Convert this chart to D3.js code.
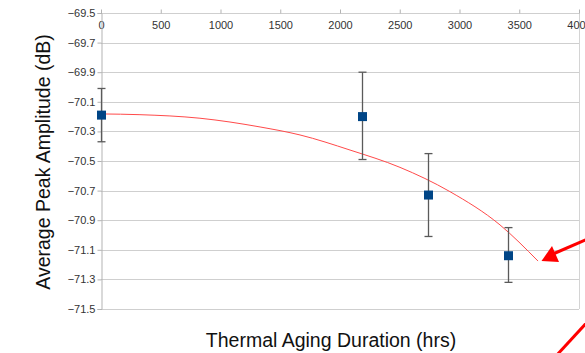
<!DOCTYPE html>
<html>
<head>
<meta charset="utf-8">
<script src="https://cdn.jsdelivr.net/npm/d3@7"></script>
<style>
  body { margin: 0; background: #fff; }
  svg { display: block; font-family: "Liberation Sans", Arial, sans-serif; }
</style>
</head>
<body>
<svg width="585" height="353"></svg>
<script>
// measured points
var hours = [0, 2184, 2736, 3408]
var amp = [-70.19, -70.2, -70.73, -71.14]
var errHi = [-70.01, -69.9, -70.45, -70.95]
var errLo = [-70.37, -70.49, -71.01, -71.32]

// trend line
var trendX = [0, 326, 828, 1331, 1665, 2084, 2502, 2920, 3339, 3657]
var trendY = [-70.182, -70.187, -70.211, -70.27, -70.324, -70.426, -70.543, -70.707, -70.932, -71.176]

var xTicks = [0, 500, 1000, 1500, 2000, 2500, 3000, 3500, 4000]
var yTicks = [-69.5, -69.7, -69.9, -70.1, -70.3, -70.5, -70.7, -70.9, -71.1, -71.3, -71.5]

var svg = d3.select("svg")
var pLeft = 101, pRight = 579, pTop = 13, pBottom = 309

var x = d3.scaleLinear().domain([0, 4000]).range([pLeft, pRight])
var y = d3.scaleLinear().domain([-69.5, -71.5]).range([pTop, pBottom])

// grid
svg.append("g").selectAll("line")
    .data(yTicks).enter()
    .append("line")
    .attr("x1", pLeft).attr("x2", pRight)
    .attr("y1", function (d) { return Math.round(y(d)) + 0.5 })
    .attr("y2", function (d) { return Math.round(y(d)) + 0.5 })
    .attr("stroke", "#cfcfcf")
    .attr("stroke-width", 1)

svg.append("line")
    .attr("x1", pRight + 0.5).attr("x2", pRight + 0.5)
    .attr("y1", pTop).attr("y2", pBottom)
    .attr("stroke", "#d4d4d4")

// top x axis
var xAxis = d3.axisTop(x).tickValues(xTicks).tickSize(4).tickPadding(-19)
    .tickFormat(d3.format("d"))
var gx = svg.append("g").attr("transform", "translate(0," + (pTop + 0.5) + ")").call(xAxis)
gx.select(".domain").remove()
gx.selectAll(".tick line").attr("stroke", "#b3b3b3")
gx.selectAll(".tick text").attr("font-size", 11).attr("fill", "#333")
    .attr("font-family", "Liberation Sans, Arial, sans-serif")

// left y axis
var yAxis = d3.axisLeft(y).tickValues(yTicks).tickSize(4).tickPadding(2)
    .tickFormat(d3.format(".1f"))
var gy = svg.append("g").attr("transform", "translate(" + (pLeft + 0.5) + ",0)").call(yAxis)
gy.select(".domain").attr("stroke", "#b3b3b3")
gy.selectAll(".tick line").attr("stroke", "#b3b3b3")
gy.selectAll(".tick text").attr("font-size", 11).attr("fill", "#333")
    .attr("font-family", "Liberation Sans, Arial, sans-serif")

// trend line
var trend = d3.line()
    .x(function (d) { return x(d[0]) })
    .y(function (d) { return y(d[1]) })
    .curve(d3.curveMonotoneX)
svg.append("path")
    .attr("d", trend(d3.zip(trendX, trendY)))
    .attr("fill", "none")
    .attr("stroke", "#ff4a4a")
    .attr("stroke-width", 1)

// error bars
var pts = hours.map(function (h, i) { return { h: h, v: amp[i], hi: errHi[i], lo: errLo[i] } })
var eb = svg.append("g").attr("stroke", "#5a5a5a").attr("stroke-width", 1.3)
pts.forEach(function (d) {
    var cx = Math.round(x(d.h)) + 0.5
    eb.append("line").attr("x1", cx).attr("x2", cx).attr("y1", y(d.hi)).attr("y2", y(d.lo))
    eb.append("line").attr("x1", cx - 4).attr("x2", cx + 4).attr("y1", y(d.hi)).attr("y2", y(d.hi))
    eb.append("line").attr("x1", cx - 4).attr("x2", cx + 4).attr("y1", y(d.lo)).attr("y2", y(d.lo))
})

// markers
svg.selectAll("rect.pt")
    .data(pts).enter()
    .append("rect")
    .attr("class", "pt")
    .attr("x", function (d) { return Math.round(x(d.h)) - 4 })
    .attr("y", function (d) { return y(d.v) - 4.5 })
    .attr("width", 9).attr("height", 9)
    .attr("fill", "#004586")

// titles
svg.append("text")
    .attr("x", 331).attr("y", 347)
    .attr("text-anchor", "middle")
    .attr("font-size", 19.5)
    .attr("fill", "#111")
    .text("Thermal Aging Duration (hrs)")

svg.append("text")
    .attr("transform", "translate(50,162) rotate(-90)")
    .attr("text-anchor", "middle")
    .attr("font-size", 19.5)
    .attr("fill", "#111")
    .text("Average Peak Amplitude (dB)")

// red annotation arrows
svg.append("line")
    .attr("x1", 590).attr("y1", 238).attr("x2", 553).attr("y2", 254)
    .attr("stroke", "#ff0000").attr("stroke-width", 3)
svg.append("path")
    .attr("d", "M541.5,261 L552,246 L559,262 Z")
    .attr("fill", "#ff0000")
svg.append("line")
    .attr("x1", 590).attr("y1", 319).attr("x2", 556).attr("y2", 356)
    .attr("stroke", "#ff0000").attr("stroke-width", 3)
</script>
</body>
</html>
